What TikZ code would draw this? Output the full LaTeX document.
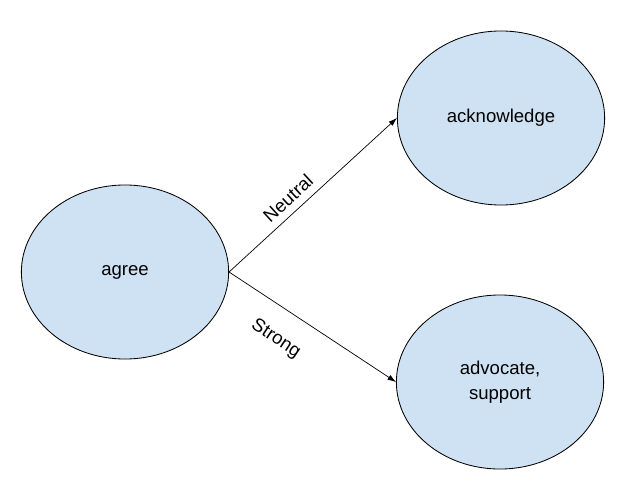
\documentclass[tikz,border=0pt]{standalone}
\usepackage{fontspec}
\setmainfont{Liberation Sans}
\usetikzlibrary{shapes.geometric,arrows.meta}

\definecolor{StanceFill}{HTML}{CFE2F3}
\definecolor{StanceInk}{HTML}{000000}

\tikzset{
  stance/.style={ellipse,draw=StanceInk,fill=StanceFill,line width=0.6pt,
    inner sep=0pt,minimum width=5.18cm,minimum height=4.35cm,align=center,
    font=\fontsize{13.2}{17.5}\selectfont},
  link/.style={draw=StanceInk,line width=0.5pt,-{Latex[length=6pt,width=4pt]}},
  linklabel/.style={sloped,font=\fontsize{13.2}{16}\selectfont}
}

\begin{document}
\begin{tikzpicture}[x=0.025cm,y=-0.025cm]
    \useasboundingbox (0,0) rectangle (623,486);
    \node[stance] (agree) at (125,272) {agree};
    \node[stance] (acknowledge) at (501,118) {acknowledge};
    \node[stance] (advocate) at (500,382) {advocate,\\support};
    \draw[link] (agree.east) -- node[linklabel,pos=0.41,above=2pt] {Neutral} (acknowledge.west);
    \draw[link] (agree.east) -- node[linklabel,pos=0.38,below=12pt] {Strong} (advocate.west);
  \end{tikzpicture}
\end{document}
